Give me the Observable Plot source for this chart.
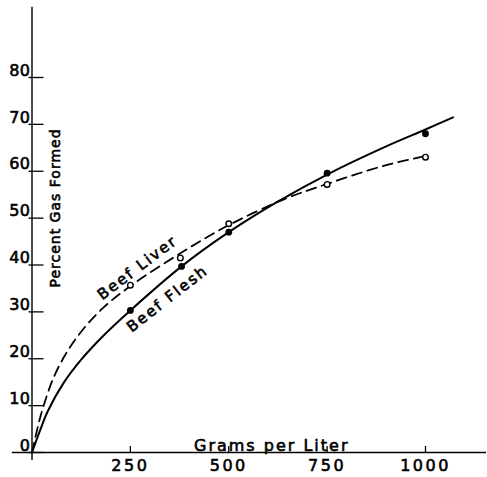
<!DOCTYPE html>
<html>
<head>
<meta charset="utf-8">
<script src="https://cdn.jsdelivr.net/npm/d3@7"></script>
<script src="https://cdn.jsdelivr.net/npm/@observablehq/plot@0.6"></script>
<style>
  html, body { margin: 0; padding: 0; background: white; }
</style>
</head>
<body>
<div id="chart"></div>
<script>
// Tick values
const xTicks = [250, 500, 750, 1000];
const yTicks = [0, 10, 20, 30, 40, 50, 60, 70, 80];

// Axis line extents (data units)
const xAxisExtent = [-50, 1155];
const yAxisExtent = [-1.7, 95];

// Smooth curves
const fleshCurveX = [0, 20, 40, 80, 125, 180, 250, 380, 500, 620, 750, 900, 1000, 1070];
const fleshCurveY = [0, 4.6, 8.8, 14.8, 19.8, 24.8, 30.3, 39.7, 47, 53.3, 59.3, 65.3, 68.9, 71.5];
const liverCurveX = [0, 12, 26, 55, 90, 130, 180, 250, 375, 500, 640, 750, 900, 1008];
const liverCurveY = [0, 4.5, 9, 16, 21.6, 26.3, 30.8, 35.5, 42.4, 48.5, 54, 57.3, 61.3, 63.4];

// Observed points
const fleshPtX = [250, 380, 500, 750, 1000];
const fleshPtY = [30.3, 39.7, 47, 59.6, 68];
const liverPtX = [250, 377, 500, 750, 1000];
const liverPtY = [35.7, 41.5, 48.8, 57.2, 63];

// Curve labels
const labelText = ["Beef Liver", "Beef Flesh"];
const labelX = [268, 344];
const labelY = [39.4, 32.8];
const labelRotate = [-37, -38];

const zip = (xs, ys) => xs.map((x, i) => ({x, y: ys[i]}));
const fleshCurve = zip(fleshCurveX, fleshCurveY);
const liverCurve = zip(liverCurveX, liverCurveY);
const fleshPts = zip(fleshPtX, fleshPtY);
const liverPts = zip(liverPtX, liverPtY);
const labels = labelText.map((t, i) => ({text: t, x: labelX[i], y: labelY[i], rotate: labelRotate[i]}));

const font = "DejaVu Sans, sans-serif";

const chart = Plot.plot({
  width: 487,
  height: 477,
  marginLeft: 31.5,
  marginRight: 62,
  marginTop: 77,
  marginBottom: 25,
  x: {domain: [0, 1000]},
  y: {domain: [0, 80]},
  style: {fontFamily: font, fontSize: "14px", background: "white", color: "black", overflow: "visible"},
  marks: [
    Plot.ruleY([0], {x1: xAxisExtent[0], x2: xAxisExtent[1], stroke: "black", strokeWidth: 1.6}),
    Plot.ruleX([0], {y1: yAxisExtent[0], y2: yAxisExtent[1], stroke: "black", strokeWidth: 1.4}),
    Plot.axisX(xTicks, {anchor: "bottom", tickSize: -6, tickPadding: 13, label: null, fontSize: 16, tickFormat: d => String(d), strokeWidth: 1.3}),
    Plot.axisY(yTicks, {anchor: "left", tickSize: 3, tickFormat: () => "", label: null, strokeWidth: 1.3}),
    Plot.axisY(yTicks, {anchor: "left", tickSize: -12, tickFormat: () => "", label: null, strokeWidth: 1.3}),
    Plot.axisY(yTicks, {anchor: "left", tickSize: 0, tickPadding: 1.5, dy: -7, label: null, fontSize: 16, tickFormat: d => String(d)}),
    Plot.line(liverCurve, {x: "x", y: "y", curve: "catmull-rom", stroke: "black", strokeWidth: 1.8, strokeDasharray: "10,6"}),
    Plot.line(fleshCurve, {x: "x", y: "y", curve: "catmull-rom", stroke: "black", strokeWidth: 2}),
    Plot.dot(liverPts, {x: "x", y: "y", r: 2.8, stroke: "black", fill: "white", strokeWidth: 1.4}),
    Plot.dot(fleshPts, {x: "x", y: "y", r: 3.4, fill: "black"}),
    Plot.text(labels, {x: "x", y: "y", text: "text", rotate: "rotate", fontSize: 15, fill: "black"}),
    Plot.text(["Grams per Liter"], {frameAnchor: "bottom", textAnchor: "middle", dx: 43, dy: -1.5, fontSize: 16, fill: "black"}),
    Plot.text(["Percent Gas Formed"], {frameAnchor: "left", textAnchor: "middle", dx: 24, dy: -57, rotate: -90, fontSize: 14, fill: "black"})
  ]
});

const sel = d3.select(chart);
sel.selectAll("text").style("stroke", "black").style("stroke-width", "0.6px");
sel.selectAll('g[aria-label="x-axis tick label"] text').style("letter-spacing", "2.5px");
sel.selectAll('g[aria-label="y-axis tick label"] text').style("letter-spacing", "0.5px");
sel.selectAll('g[aria-label="text"] text').style("letter-spacing", "2px");
sel.selectAll('g[aria-label="text"] text').filter(function() { return this.textContent === "Percent Gas Formed"; }).style("letter-spacing", "1px");

document.getElementById("chart").appendChild(chart);
</script>
</body>
</html>
